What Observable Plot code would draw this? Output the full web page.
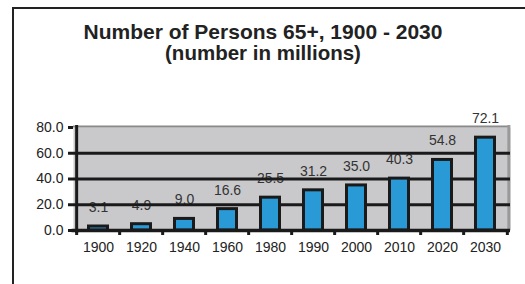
<!DOCTYPE html>
<html>
<head>
<meta charset="utf-8">
<script src="https://cdn.jsdelivr.net/npm/d3@7"></script>
<script src="https://cdn.jsdelivr.net/npm/@observablehq/plot@0.6"></script>
<style>
  html, body { margin: 0; padding: 0; background: #fff; overflow: hidden; }
  body { width: 525px; height: 284px; position: relative; font-family: "Liberation Sans", Arial, sans-serif; }
  #frame { position: absolute; left: 12px; top: 7px; width: 600px; height: 400px; border: 2.5px solid #222; box-sizing: border-box; }
  #title { position: absolute; left: 0; top: 21px; width: 526px; text-align: center; font-weight: bold; line-height: 21px; color: #222; }
  #title .l1 { font-size: 21px; display: block; }
  #title .l2 { font-size: 20.5px; display: block; }
  #chart { position: absolute; left: 0; top: 0; }
</style>
</head>
<body>
<div id="frame"></div>
<div id="title"><span class="l1">Number of Persons 65+, 1900 - 2030</span><span class="l2">(number in millions)</span></div>
<div id="chart"></div>
<script>
const years = ["1900", "1920", "1940", "1960", "1980", "1990", "2000", "2010", "2020", "2030"];
const persons = [3.1, 4.9, 9.0, 16.6, 25.5, 31.2, 35.0, 40.3, 54.8, 72.1];
const yTicks = [0, 20, 40, 60, 80];
const gridValues = [20, 40, 60];

const data = years.map((year, i) => ({year, value: persons[i]}));

const W = 525, H = 284, mL = 73, mR = 15, mT = 127, mB = 54;
const step = (W - mL - mR) / years.length;

const ink = "#1a1a1a";

const chart = Plot.plot({
  width: W,
  height: H,
  marginLeft: mL,
  marginRight: mR,
  marginTop: mT,
  marginBottom: mB,
  style: {background: "transparent", overflow: "visible", fontFamily: "'Liberation Sans', Arial, sans-serif", fontSize: "14px", color: "#222"},
  x: {domain: years, type: "band", paddingInner: 0.5, paddingOuter: 0.25, label: null},
  y: {domain: [0, 80], label: null},
  marks: [
    Plot.frame({fill: "#c9c9cc", stroke: "none"}),
    Plot.ruleY([80], {stroke: "#8a8a8a", strokeWidth: 2, dy: -1}),
    Plot.ruleX([years[years.length - 1]], {y1: 80, y2: 0, dx: step / 2 + 1.5, stroke: "#9a9a9a", strokeWidth: 3, insetTop: -2}),
    Plot.text(data, {x: "year", y: "value", text: d => d.value.toFixed(1), dy: -19, fontSize: 14, fill: "#333"}),
    Plot.ruleY(gridValues, {stroke: ink, strokeWidth: 3}),
    Plot.barY(data, {x: "year", y: "value", fill: "#2a9ad6", stroke: ink, strokeWidth: 3, insetLeft: 1.5, insetRight: 1.5}),
    Plot.ruleY([0], {stroke: ink, strokeWidth: 3.5, insetLeft: -1.5}),
    Plot.ruleX(years, {y1: 0, y2: 0, dx: -step / 2, stroke: ink, strokeWidth: 3, insetBottom: -5}),
    Plot.ruleX([years[years.length - 1]], {y1: 0, y2: 0, dx: step / 2, stroke: ink, strokeWidth: 3, insetBottom: -5}),
    Plot.ruleX([years[0]], {y1: 80, y2: 0, dx: -step / 2, stroke: ink, strokeWidth: 3, insetTop: -2, insetBottom: -3}),
    Plot.axisY({ticks: yTicks, tickFormat: d3.format(".1f"), tickSize: 5, tickPadding: 5, strokeWidth: 3, stroke: ink, fill: "#222", fontSize: 14, label: null}),
    Plot.axisX({tickSize: 0, tickPadding: 12, fill: "#222", fontSize: 14, label: null})
  ]
});
document.getElementById("chart").appendChild(chart);
</script>
</body>
</html>
